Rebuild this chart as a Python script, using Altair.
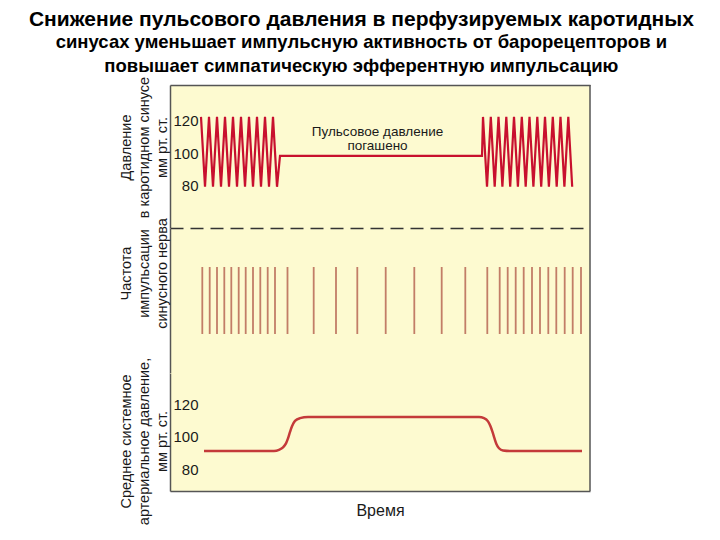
import altair as alt
import pandas as pd

FONT = "Liberation Sans"
BG = "#FDFAD0"
BORDER = "#555555"
X_MAX = 420

# Top panel: pressure in carotid sinus (mm Hg) vs time
TOP_T = [31, 35, 39, 43, 47, 51, 55, 59, 63, 67, 71, 75, 79, 83, 87, 91, 95, 99, 103, 107,
         110, 312,
         313, 317, 320.8, 324.7, 328.5, 332.4, 336.3, 340.2, 344, 347.9, 351.8, 355.7,
         359.5, 363.4, 367.3, 371.2, 375, 378.9, 382.8, 386.7, 390.5, 394.4, 398.3, 402.2]
TOP_V = [122.5, 79.5, 122.5, 79.5, 122.5, 79.5, 122.5, 79.5, 122.5, 79.5,
         122.5, 79.5, 122.5, 79.5, 122.5, 79.5, 122.5, 79.5, 122.5, 79.5,
         98.5, 98.5,
         122.5, 79.5, 122.5, 79.5, 122.5, 79.5, 122.5, 79.5, 122.5, 79.5, 122.5, 79.5,
         122.5, 79.5, 122.5, 79.5, 122.5, 79.5, 122.5, 79.5, 122.5, 79.5, 122.5, 79.5]

# Middle panel: sinus nerve impulses (times)
SPIKE_T = [32.3, 39.7, 47, 54.3, 61.3, 68.7, 75.7, 83, 90.3, 97.7, 105, 117.5,
           143.7, 166, 187.3, 215.7, 244.3, 271.7, 295.3,
           317.3, 329.7, 337.7, 345.7, 353.7, 362, 370, 378.3, 386.3, 394.7, 402.7, 411]

# Bottom panel: mean systemic arterial pressure (mm Hg)
MAP_T = [34, 104, 109, 113, 116, 118, 120, 122, 125, 130, 138, 309, 314, 318, 320.5,
         322.5, 324.5, 326.5, 329, 333, 340, 412]
MAP_V = [91.3, 91.3, 92, 93.5, 96, 99, 103, 106.5, 109.8, 111.5, 112.2, 112.2, 111.5,
         109.5, 106.5, 103, 99, 95.5, 93, 91.6, 91.3, 91.3]

Y_TICKS = [80, 100, 120]

NOTE = ["Пульсовое давление", "погашено"]
NOTE_T = [207.5]
NOTE_V = [113.1]

TITLE_1 = "Снижение пульсового давления в перфузируемых каротидных"
TITLE_REST = ["синусах уменьшает  импульсную активность от барорецепторов и",
              "повышает симпатическую эфферентную импульсацию"]

top_df = pd.DataFrame({"t": TOP_T, "v": TOP_V})
spk_df = pd.DataFrame({"t": SPIKE_T})
map_df = pd.DataFrame({"t": MAP_T, "v": MAP_V})
note_df = pd.DataFrame({"t": NOTE_T, "v": NOTE_V})
edge_df = pd.DataFrame({"t": [X_MAX]})

xscale = alt.Scale(domain=[0, X_MAX], nice=False, zero=False)


def x_axis(orient, dash=None, title=None):
    kw = dict(orient=orient, labels=False, ticks=False, grid=False,
              domainColor=BORDER, domainWidth=1.5)
    if dash:
        kw.update(domainDash=dash, domainColor="#333333", domainWidth=1.6)
    if title:
        kw.update(title=title, titleFont=FONT, titleFontSize=16,
                  titleFontWeight="normal", titleColor="#1a1a1a", titlePadding=11)
    else:
        kw.update(title=None)
    return alt.Axis(**kw)


def y_axis(title, ty, with_labels=True):
    kw = dict(orient="left", ticks=False, tickSize=0, grid=False,
              domainColor=BORDER, domainWidth=1.5,
              title=title, titleFont=FONT, titleFontSize=14.5, titleFontWeight="normal",
              titleColor="#1a1a1a", titleAngle=270, titleAlign="center",
              titleBaseline="middle", titleX=-44, titleY=ty, titleLineHeight=18)
    if with_labels:
        kw.update(values=Y_TICKS, labelPadding=-28, labelAlign="right",
                  labelFont=FONT, labelFontSize=15, labelColor="#1a1a1a")
    else:
        kw.update(labels=False)
    return alt.Axis(**kw)


def right_border():
    return alt.Chart(edge_df).mark_rule(color=BORDER, strokeWidth=1.5).encode(
        x=alt.X("t:Q", scale=xscale))


# ---- top panel
top_line = alt.Chart(top_df).mark_line(color="#C8102E", strokeWidth=2.2).encode(
    x=alt.X("t:Q", scale=xscale, axis=x_axis("top")),
    y=alt.Y("v:Q", scale=alt.Scale(domain=[54.15, 142.15], nice=False, zero=False),
            axis=y_axis(["Давление", "в каротидном синусе", "мм рт. ст."], 62)),
)
top_note = alt.Chart(note_df).mark_text(
    text=NOTE, font=FONT, fontSize=13.5,
    lineHeight=13.5, color="#1a1a1a", baseline="middle", align="center"
).encode(x=alt.X("t:Q", scale=xscale), y=alt.Y("v:Q"))
top = alt.layer(top_line, top_note, right_border()).properties(width=X_MAX, height=143)

# ---- middle panel
mid_ticks = alt.Chart(spk_df).mark_tick(
    orient="vertical", color="#A8473A", thickness=1.8, size=67
).encode(
    x=alt.X("t:Q", scale=xscale, axis=x_axis("top", dash=[13, 7])),
    y=alt.YDatum(0, scale=alt.Scale(domain=[-1, 1]),
                 axis=y_axis(["Частота", "импульсации", "синусного нерва"], 45,
                             with_labels=False)),
)
mid = alt.layer(mid_ticks, right_border()).properties(width=X_MAX, height=145)

# ---- bottom panel
bot_line = alt.Chart(map_df).mark_line(
    color="#C43A3A", strokeWidth=2.5, interpolate="monotone"
).encode(
    x=alt.X("t:Q", scale=xscale, axis=x_axis("bottom", title="Время")),
    y=alt.Y("v:Q", scale=alt.Scale(domain=[66.65, 139.3], nice=False, zero=False),
            axis=y_axis(["Среднее системное", "артериальное давление,", "мм рт. ст."], 68)),
)
bot = alt.layer(bot_line, right_border()).properties(width=X_MAX, height=118)

chart = alt.vconcat(top, mid, bot, spacing=0, bounds="flush").properties(
    title=alt.TitleParams(text=TITLE_1, subtitle=TITLE_REST, font=FONT, fontSize=21,
                          fontWeight="bold", color="#000000", anchor="middle",
                          subtitleFont=FONT, subtitleFontSize=18.5,
                          subtitleFontWeight="bold", subtitleColor="#000000",
                          subtitleLineHeight=24, subtitlePadding=3, offset=1, dx=7),
    padding={"left": 28, "top": 8, "right": 10, "bottom": 10},
    background="white",
).configure_view(fill=BG, stroke=None)

chart.save("out.html", embed_options={"renderer": "svg", "actions": False})
